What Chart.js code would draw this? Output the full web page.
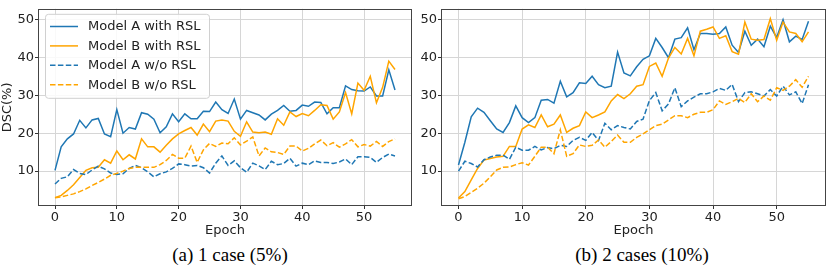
<!DOCTYPE html>
<html><head><meta charset="utf-8">
<script src="https://cdn.jsdelivr.net/npm/chart.js@4/dist/chart.umd.min.js"></script>
<style>
html,body{margin:0;padding:0;background:#fff;width:830px;height:273px;overflow:hidden;position:relative;}
canvas{position:absolute;top:0;}
#ca{left:0}
#cb{left:415px}
.cap{position:absolute;font-family:"Liberation Serif","Times New Roman",serif;font-size:19px;line-height:20px;color:#000;white-space:nowrap;transform:translateX(-50%);top:245px;}
</style></head><body>
<canvas id="ca" width="415" height="240"></canvas>
<canvas id="cb" width="415" height="240"></canvas>
<div class="cap" style="left:230px">(a) 1 case (5%)</div>
<div class="cap" style="left:642px">(b) 2 cases (10%)</div>
<script>
const epochs = [0,1,2,3,4,5,6,7,8,9,10,11,12,13,14,15,16,17,18,19,20,21,22,23,24,25,26,27,28,29,30,31,32,33,34,35,36,37,38,39,40,41,42,43,44,45,46,47,48,49,50,51,52,53,54,55];
const xTicks = [0,10,20,30,40,50];
const yTicks = [10,20,30,40,50];
const seriesNames = ['Model A with RSL','Model B with RSL','Model A w/o RSL','Model B w/o RSL'];
const captions = ['(a) 1 case (5%)','(b) 2 cases (10%)'];

// Panel (a): 1 case (5%)
const a_modelA_RSL = [10.2,16.4,18.5,19.8,23.4,21.4,23.5,23.9,19.8,19.1, 26.2,20.0,21.5,21.1,25.4,25.0,23.7,20.1,21.7,25.1, 23.0,25.1,23.8,23.8,25.8,25.7,28.2,26.2,25.2,29.0, 23.7,26.0,25.4,24.8,23.5,25.0,26.0,27.3,25.8,26.0, 27.4,27.1,28.2,28.1,25.1,26.7,26.7,32.5,31.5,31.2, 31.1,32.2,29.8,29.8,36.7,31.4];
const a_modelB_RSL = [3.0,3.6,4.9,6.4,8.3,10.2,10.9,11.0,13.0,12.1, 15.3,13.0,14.3,13.2,18.5,16.4,16.4,15.0,16.8,18.5, 19.8,20.7,21.5,19.5,22.4,20.4,23.2,23.5,23.2,20.5, 19.2,23.0,20.3,20.1,20.3,19.7,23.8,22.1,25.6,24.4, 25.2,24.6,26.0,27.5,27.3,23.7,25.6,30.7,25.1,33.2, 31.3,35.0,28.0,32.1,39.0,36.8];
const a_modelA_noRSL = [6.6,8.1,8.5,10.4,9.4,9.1,10.3,11.3,10.6,9.5, 9.1,9.3,10.7,11.5,10.9,9.8,8.5,9.3,9.8,10.7, 11.9,11.7,11.3,11.5,10.9,9.5,12.1,14.0,11.5,12.7, 10.9,9.7,12.1,11.4,10.4,12.6,11.7,12.0,13.4,11.3, 12.1,11.7,12.7,12.3,12.3,12.0,12.4,13.2,11.7,13.8, 13.8,13.6,12.3,13.6,14.5,14.0];
const a_modelB_noRSL = [3.0,3.2,3.6,4.0,4.6,5.3,6.2,7.0,7.9,8.9, 9.4,10.0,10.7,11.0,11.0,11.0,11.0,11.7,12.8,14.4, 13.4,13.4,16.6,12.3,15.6,17.3,16.5,17.4,17.2,18.8, 16.9,17.9,19.0,14.0,16.1,15.1,14.9,14.4,16.6,16.6, 15.3,16.0,17.2,18.2,16.7,17.5,16.3,17.2,18.3,16.4, 17.0,16.6,17.8,16.5,17.8,18.5];

// Panel (b): 2 cases (10%)
const b_modelA_RSL = [11.6,17.6,24.3,26.6,25.5,23.3,21.1,20.2,22.8,27.2, 24.1,22.8,24.1,28.7,28.9,27.9,33.7,29.6,30.7,33.3, 33.1,35.0,32.8,32.0,32.4,41.4,35.9,35.1,37.5,39.5, 40.4,45.0,42.6,39.9,44.8,45.2,47.8,42.0,46.3,46.3, 46.1,46.3,48.0,43.2,41.3,46.9,43.2,44.8,42.8,48.2, 45.2,49.9,44.1,45.6,44.7,49.5];
const b_modelB_RSL = [2.9,4.6,7.7,10.7,12.9,13.3,13.7,13.9,16.5,16.5, 21.1,22.2,21.5,24.8,21.7,22.4,24.8,20.2,21.3,22.0, 25.6,24.1,24.8,25.6,28.5,30.2,29.1,30.4,32.4,32.8, 37.6,38.5,35.0,39.8,42.6,40.9,45.0,40.4,46.9,47.4, 48.0,45.0,45.7,41.5,40.8,49.3,44.8,44.5,44.7,50.2, 44.5,49.3,46.7,46.3,44.1,46.7];
const b_modelA_noRSL = [10.0,12.6,12.0,11.1,13.0,13.7,14.2,14.2,13.1,16.3, 15.5,15.5,16.5,15.6,16.2,15.9,16.8,16.5,18.1,18.9, 18.1,20.2,18.1,22.6,20.9,22.0,21.5,21.1,23.1,23.7, 28.6,30.7,25.9,27.7,32.0,27.0,28.5,29.5,30.4,30.4, 30.9,31.8,31.3,32.9,28.3,30.7,30.9,30.4,29.8,31.5, 29.8,32.4,30.1,30.9,27.8,32.8];
const b_modelB_noRSL = [2.7,3.3,4.4,5.5,6.8,8.5,10.3,11.0,11.1,11.7, 12.2,11.6,13.9,16.3,16.3,14.6,20.9,13.9,14.6,16.9, 16.5,16.8,18.2,16.3,17.8,19.5,17.6,17.6,18.9,19.8, 20.9,22.0,22.4,23.5,24.6,24.6,24.1,25.0,25.5,25.5, 26.2,28.5,27.6,28.3,29.2,28.1,30.4,28.3,29.8,28.7, 32.0,31.3,32.4,34.1,32.1,35.0];

const BLUE = '#1f77b4', ORANGE = '#ffa500';
const FONT = '"DejaVu Sans", Verdana, sans-serif';
const DASH = [5.5, 2.4];

function toXY(vals){ return vals.map((v,i)=>({x:epochs[i], y:v})); }

function makeDatasets(sets){
  const styles = [
    {c:BLUE, d:[]},{c:ORANGE, d:[]},{c:BLUE, d:DASH},{c:ORANGE, d:DASH}
  ];
  return sets.map((vals,i)=>({
    label: seriesNames[i],
    data: toXY(vals),
    borderColor: styles[i].c,
    backgroundColor: styles[i].c,
    borderDash: styles[i].d,
    borderWidth: 1.5,
    pointRadius: 0,
    tension: 0,
    fill: false,
    order: 3 - i
  }));
}

const framePlugin = {
  id:'frame',
  afterDatasetsDraw(chart){
    const {ctx, chartArea:a} = chart;
    ctx.save();
    ctx.strokeStyle = '#444';
    ctx.lineWidth = 1;
    ctx.strokeRect(Math.round(a.left)+0.5, Math.round(a.top)+0.5, Math.round(a.right-a.left)-1, Math.round(a.bottom-a.top)-1);
    ctx.restore();
  }
};

const legendPlugin = {
  id:'inlegend',
  afterDraw(chart){
    const {ctx, chartArea:a} = chart;
    const x0 = a.left + 7, y0 = a.top + 5, w = 164, h = 84;
    ctx.save();
    ctx.beginPath();
    ctx.roundRect(x0+0.5, y0+0.5, w, h, 3);
    ctx.fillStyle = 'rgba(255,255,255,0.85)';
    ctx.fill();
    ctx.strokeStyle = '#d0d0d0';
    ctx.lineWidth = 1;
    ctx.stroke();
    ctx.font = '13px ' + FONT;
    ctx.textBaseline = 'middle';
    ctx.fillStyle = '#222';
    chart.data.datasets.forEach((ds,i)=>{
      const yy = a.top + 17.7 + i*19.4;
      ctx.beginPath();
      ctx.setLineDash(ds.borderDash);
      ctx.strokeStyle = ds.borderColor;
      ctx.lineWidth = 1.5;
      ctx.moveTo(x0+5, yy); ctx.lineTo(x0+33, yy);
      ctx.stroke();
      ctx.setLineDash([]);
      ctx.fillText(ds.label, x0+43, yy+0.5);
    });
    ctx.restore();
  }
};

function makeChart(id, sets, yWidth, rightPad, showTitle, showLegend){
  const plugins = [framePlugin];
  if (showLegend) plugins.push(legendPlugin);
  return new Chart(document.getElementById(id), {
    type:'line',
    data:{ datasets: makeDatasets(sets) },
    options:{
      responsive:false, animation:false, devicePixelRatio:1,
      layout:{ padding:{ top:3, right:rightPad, left:0, bottom:0 } },
      plugins:{ legend:{display:false}, tooltip:{enabled:false} },
      scales:{
        x:{
          type:'linear', min:-2.75, max:57.75,
          afterBuildTicks(s){ s.ticks = xTicks.map(v=>({value:v})); },
          afterFit(s){ s.height = 34; },
          border:{display:false},
          grid:{ color:'#d6d6d6', lineWidth:1, drawTicks:true, tickLength:3, tickColor:'#333' },
          ticks:{ font:{family:FONT, size:13}, color:'#222', padding:1, maxRotation:0, autoSkip:false },
          title:{ display:true, text:'Epoch', font:{family:FONT, size:13}, color:'#222', padding:{top:0,bottom:2} }
        },
        y:{
          min:0.8, max:52.8,
          afterBuildTicks(s){ s.ticks = yTicks.map(v=>({value:v})); },
          afterFit(s){ s.width = yWidth; },
          border:{display:false},
          grid:{ color:'#d6d6d6', lineWidth:1, drawTicks:true, tickLength:3, tickColor:'#333' },
          ticks:{ font:{family:FONT, size:13}, color:'#222', padding:1 },
          title:{ display:showTitle, text:'DSC(%)', font:{family:FONT, size:13}, color:'#222', padding:{top:0,bottom:0} }
        }
      }
    },
    plugins
  });
}

makeChart('ca', [a_modelA_RSL, a_modelB_RSL, a_modelA_noRSL, a_modelB_noRSL], 38, 3, true, true);
makeChart('cb', [b_modelA_RSL, b_modelB_RSL, b_modelA_noRSL, b_modelB_noRSL], 26, 4, false, false);
</script>
</body></html>
